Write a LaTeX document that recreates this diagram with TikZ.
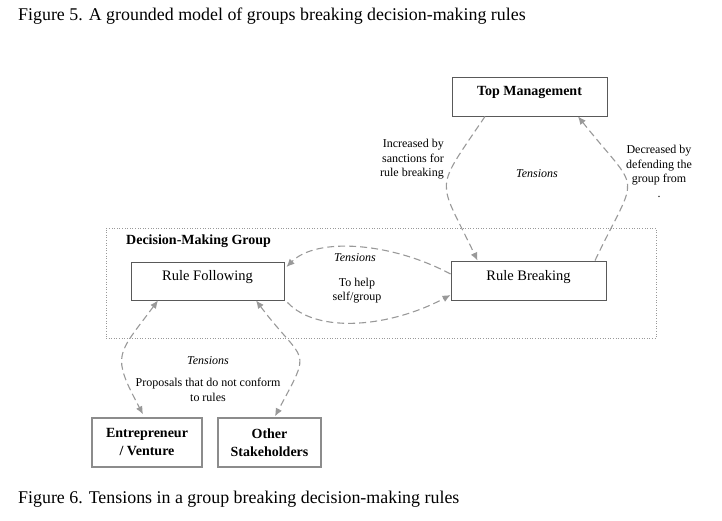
\documentclass[tikz,border=0pt]{standalone}
\usepackage{fontspec}
\setmainfont{Liberation Serif}
\usetikzlibrary{arrows.meta,positioning}

\begin{document}
\begin{tikzpicture}[x=1pt,y=-1pt,>={Latex[length=8pt,width=7pt]},
 box/.style={draw=black!65,line width=0.9pt,minimum width=155pt,minimum height=39pt,inner sep=0pt,
   font=\fontsize{14.5}{17}\selectfont,text height=8pt,text depth=9pt},
 actor/.style={draw=black!45,line width=1.4pt,minimum height=49pt,inner sep=0pt,align=center,
   font=\fontsize{14}{18}\selectfont\bfseries},
 note/.style={inner sep=0pt,font=\fontsize{12}{14.5}\selectfont},
 tens/.style={inner sep=0pt,font=\fontsize{12}{14.5}\selectfont\itshape},
 flow/.style={draw=black!40,line width=1.1pt,dash pattern=on 7pt off 4pt},
 caption/.style={anchor=base west,inner sep=0pt,font=\fontsize{17.9}{21}\selectfont}]

\useasboundingbox (0,0) rectangle (722,521);

\node[caption] (fig5) at (18,21) {Figure 5. A grounded model of groups breaking decision-making rules};

% group frame and boxes
\node[draw=black!40,dotted,line width=0.6pt,minimum width=550pt,minimum height=110pt] (grp) at (381,283) {};
\node[anchor=west,inner sep=0pt,font=\fontsize{14}{17}\selectfont\bfseries] (grpname) at (126,241) {Decision-Making Group};
\node[box,font=\fontsize{14}{17}\selectfont\bfseries] (tm) at (529.5,96.5) {Top Management};
\node[box] (rb) at (528.5,280.5) {Rule Breaking};
\node[box,minimum width=153pt,minimum height=38pt] (rf) at (207.5,281) {Rule Following};
\node[actor,minimum width=110pt] (ent) at (147,442.5) {Entrepreneur\\/ Venture};
\node[actor,minimum width=103pt] (oth) at (269.5,442.5) {Other\\Stakeholders};

% tensions
\draw[flow,->] ([xshift=-44.5pt]tm.south) .. controls +(-52,77) and +(-40,-84) .. ([xshift=-51pt]rb.north);
\draw[flow,->] ([xshift=66.5pt]rb.north) .. controls +(44,-92) and +(64,80) .. ([xshift=48.5pt]tm.south);
\draw[flow,->] ([yshift=6.5pt]rb.west) .. controls +(-60,-32) and +(30,-30) .. ([xshift=2pt,yshift=14pt]rf.east);
\draw[flow,->] ([xshift=3pt,yshift=-2pt]rf.south east) .. controls +(30,32) and +(-60,32) .. ([yshift=-14.5pt]rb.west);
\draw[flow,<->] ([xshift=-49.5pt]rf.south) .. controls +(-41,55) and +(-32,-60) .. ([xshift=-4pt,yshift=3pt]ent.north);
\draw[flow,<->] ([xshift=48.5pt]rf.south) .. controls +(49,65) and +(38,-71) .. ([xshift=5.5pt,yshift=1pt]oth.north);

\node[note,anchor=east,align=right] (incr) at (444,159.5) {Increased by\\sanctions for\\rule breaking};
\node[tens] (tens1) at (537,174) {Tensions};
\node[note,anchor=north,align=center] (decr) at (659,145) {Decreased by\\defending the\\group from\\.};
\node[tens] (tens2) at (355,258) {Tensions};
\node[note,align=center] (help) at (357,290.5) {To help\\self/group};
\node[tens] (tens3) at (208,361) {Tensions};
\node[note,align=center] (prop) at (208,390) {Proposals that do not conform\\to rules};

\node[caption] (fig6) at (18,503) {Figure 6. Tensions in a group breaking decision-making rules};
\end{tikzpicture}
\end{document}
